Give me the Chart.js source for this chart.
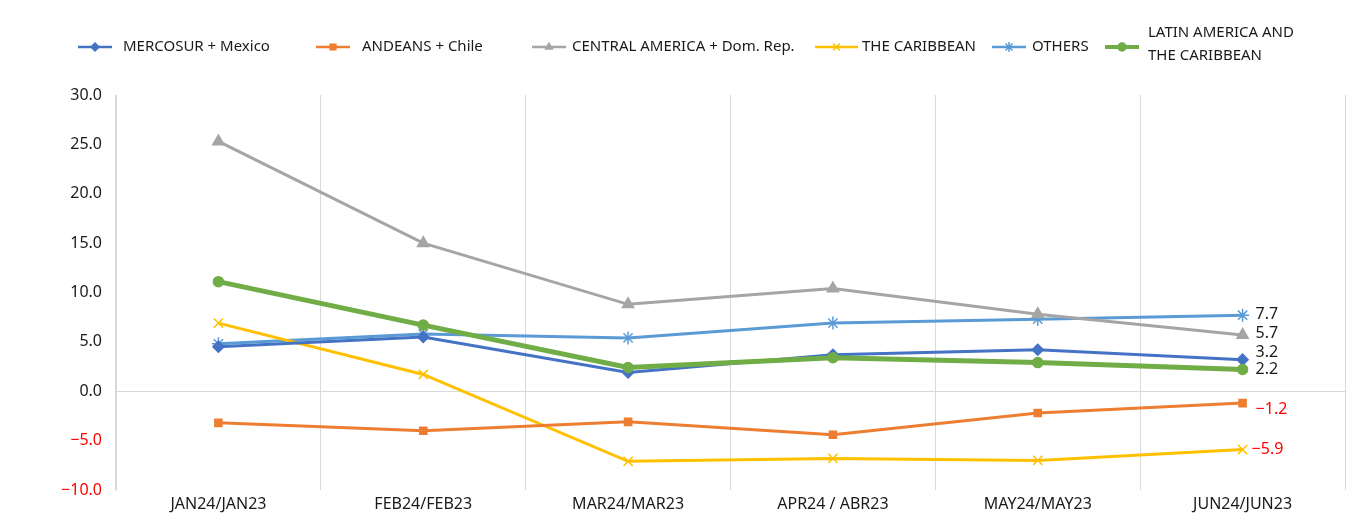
<!DOCTYPE html>
<html>
<head>
<meta charset="utf-8">
<script src="https://cdn.jsdelivr.net/npm/chart.js@4/dist/chart.umd.min.js"></script>
<style>
  html, body { margin: 0; padding: 0; background: #ffffff; }
  #wrap { width: 1353px; height: 523px; }
</style>
</head>
<body>
<div id="wrap"><canvas id="c" width="1353" height="523"></canvas></div>
<script>
// Period labels (year-on-year comparison)
const categories = ["JAN24/JAN23", "FEB24/FEB23", "MAR24/MAR23", "APR24 / ABR23", "MAY24/MAY23", "JUN24/JUN23"];

// Year-on-year change, %
const mercosurMexico   = [4.5, 5.5, 1.9, 3.7, 4.2, 3.2];
const andeansChile     = [-3.2, -4.0, -3.1, -4.4, -2.2, -1.2];
const centralAmerica   = [25.3, 15.0, 8.8, 10.4, 7.8, 5.7];
const theCaribbean     = [6.9, 1.7, -7.1, -6.8, -7.0, -5.9];
const others           = [4.8, 5.8, 5.4, 6.9, 7.3, 7.7];
const latinAmerica     = [11.1, 6.7, 2.4, 3.4, 2.9, 2.2];

const seriesNames = ["MERCOSUR + Mexico", "ANDEANS + Chile", "CENTRAL AMERICA + Dom. Rep.", "THE CARIBBEAN", "OTHERS", ["LATIN AMERICA AND", "THE CARIBBEAN"]];

// Y axis range
const yMin = -10, yMax = 30, yStep = 5;

const FONT = "'Noto Sans', sans-serif";
const TEXT = "#1a1a1a";
const NEG = "#ff0000";
const fmt = v => (v < 0 ? "\u2212" + Math.abs(v).toFixed(1) : v.toFixed(1));

function ds(label, data, color, pointStyle, width, radius) {
  return {
    label: Array.isArray(label) ? label.join(" ") : label,
    data, borderColor: color, backgroundColor: color,
    pointStyle, pointRadius: radius, pointHoverRadius: radius,
    pointBorderColor: color, pointBackgroundColor: color,
    pointBorderWidth: 1.5, borderWidth: width, tension: 0, fill: false
  };
}

const datasets = [
  ds(seriesNames[0], mercosurMexico, "#4472C4", "rectRot", 3, 5.5),
  ds(seriesNames[1], andeansChile,   "#ED7D31", "rect",    3, 5),
  ds(seriesNames[2], centralAmerica, "#A5A5A5", "triangle",3, 6.5),
  ds(seriesNames[3], theCaribbean,   "#FFC000", "crossRot",3, 6.5),
  ds(seriesNames[4], others,         "#5B9BD5", "star",    3, 6.5),
  ds(seriesNames[5], latinAmerica,   "#70AD47", "circle",  5, 5)
];
// Green total series on top
datasets[5].order = -1;

// Legend drawn at the top of the canvas
const legendLayout = [
  { line: 78,   text: 123 },
  { line: 316,  text: 362 },
  { line: 532,  text: 572 },
  { line: 815,  text: 862, len: 43 },
  { line: 992,  text: 1032 },
  { line: 1105, text: 1148 }
];

const legendPlugin = {
  id: "topLegend",
  afterDraw(chart) {
    const ctx = chart.ctx;
    const y = 47;
    ctx.save();
    ctx.font = "15px " + FONT;
    ctx.textBaseline = "middle";
    datasets.forEach((d, i) => {
      const L = legendLayout[i];
      const len = L.len || 34;
      ctx.strokeStyle = d.borderColor;
      ctx.fillStyle = d.borderColor;
      ctx.lineWidth = i === 5 ? 4 : 2.5;
      ctx.beginPath();
      ctx.moveTo(L.line, y);
      ctx.lineTo(L.line + len, y);
      ctx.stroke();
      ctx.lineWidth = 1.5;
      const r = d.pointStyle === "star" || d.pointStyle === "crossRot" ? 5 : 4;
      Chart.helpers.drawPoint(ctx, { pointStyle: d.pointStyle, radius: r, rotation: 0, borderWidth: 1.5 }, L.line + len / 2, y);
      ctx.fillStyle = TEXT;
      const name = seriesNames[i];
      if (Array.isArray(name)) {
        ctx.fillText(name[0], L.text, 33);
        ctx.fillText(name[1], L.text, 56);
      } else {
        ctx.fillText(name, L.text, y);
      }
    });
    ctx.restore();
  }
};

// Value labels at the last point of each series
const labelNudge = [
  { dx: 13, dy: -7 }, { dx: 13, dy: 6 }, { dx: 13, dy: -2 },
  { dx: 9,  dy: 0 },  { dx: 13, dy: -1 }, { dx: 13, dy: 0 }
];
const endLabelPlugin = {
  id: "endLabels",
  afterDatasetsDraw(chart) {
    const ctx = chart.ctx;
    ctx.save();
    ctx.font = "16px " + FONT;
    ctx.textBaseline = "middle";
    ctx.textAlign = "left";
    chart.data.datasets.forEach((d, i) => {
      const meta = chart.getDatasetMeta(i);
      const last = d.data.length - 1;
      const pt = meta.data[last];
      const v = d.data[last];
      ctx.fillStyle = v < 0 ? NEG : TEXT;
      ctx.fillText(fmt(v), pt.x + labelNudge[i].dx, pt.y + labelNudge[i].dy);
    });
    ctx.restore();
  }
};

new Chart(document.getElementById("c"), {
  type: "line",
  data: { labels: categories, datasets },
  options: {
    responsive: false,
    animation: false,
    layout: { padding: { top: 95, right: 5, left: 0, bottom: 0 } },
    plugins: { legend: { display: false }, tooltip: { enabled: false } },
    scales: {
      x: {
        offset: true,
        grid: { offset: true, color: "#d9d9d9", lineWidth: 1, drawTicks: false },
        border: { display: false },
        ticks: { color: TEXT, font: { family: FONT, size: 16 }, padding: 5, maxRotation: 0 },
        afterFit(s) { s.height = 33; }
      },
      y: {
        min: yMin, max: yMax,
        grid: {
          drawTicks: false,
          color: c => (c.tick && c.tick.value === 0 ? "#d9d9d9" : "rgba(0,0,0,0)"),
          lineWidth: 1
        },
        border: { display: true, color: "#d9d9d9", width: 1 },
        ticks: {
          stepSize: yStep,
          padding: 14,
          font: { family: FONT, size: 16 },
          color: c => (c.tick.value < 0 ? NEG : TEXT),
          callback: v => fmt(v)
        },
        afterFit(s) { s.width = 116; }
      }
    }
  },
  plugins: [legendPlugin, endLabelPlugin]
});
</script>
</body>
</html>
